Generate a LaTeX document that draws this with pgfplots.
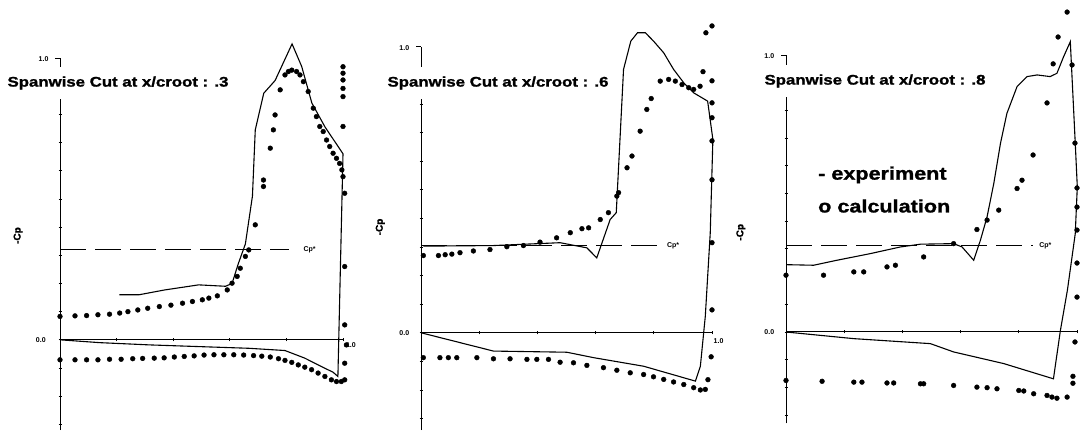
\documentclass[border=0pt]{standalone}
\usepackage{fontspec}
\setmainfont{Liberation Sans}
\newfontfamily\heavy{Liberation Sans}[BoldFeatures={FakeBold=1.2}]
\usepackage{pgfplots}
\pgfplotsset{compat=1.18}

\pgfplotstableread{
x y
0.21 0.16
0.28 0.16
0.37 0.177
0.49 0.195
0.585 0.19
0.608 0.20
0.63 0.27
0.655 0.34
0.68 0.51
0.69 0.745
0.72 0.875
0.76 0.92
0.82 1.05
0.854 0.97
0.89 0.84
0.936 0.756
1.0 0.66
0.982 -0.13
0.965 -0.115
0.924 -0.095
0.865 -0.065
0.795 -0.038
0.667 -0.03
0.49 -0.024
0.316 -0.018
0.14 -0.01
0 0
}\expA

\pgfplotstableread{
x y
0 0.083
0.053 0.085
0.094 0.086
0.134 0.089
0.175 0.091
0.211 0.095
0.240 0.100
0.275 0.106
0.310 0.112
0.351 0.118
0.392 0.123
0.433 0.130
0.468 0.136
0.503 0.142
0.526 0.148
0.556 0.156
0.591 0.177
0.608 0.201
0.626 0.225
0.637 0.254
0.655 0.296
0.667 0.319
0.690 0.408
0.719 0.544
0.719 0.567
0.743 0.680
0.754 0.745
0.760 0.798
0.778 0.887
0.795 0.940
0.807 0.952
0.819 0.957
0.836 0.952
0.848 0.940
0.860 0.916
0.877 0.881
0.895 0.822
0.906 0.792
0.918 0.757
0.930 0.739
0.942 0.709
0.953 0.686
0.965 0.662
0.977 0.644
0.988 0.626
0.996 0.603
1.0 0.579
1.0 0.969
1.0 0.946
1.0 0.922
1.0 0.892
1.0 0.863
1.0 0.757
1.006 0.520
1.006 0.260
1.006 0.053
1.012 -0.018
1.006 -0.083
1.006 -0.142
0 -0.071
0.053 -0.071
0.094 -0.071
0.134 -0.071
0.175 -0.069
0.216 -0.069
0.257 -0.067
0.292 -0.066
0.333 -0.065
0.368 -0.064
0.404 -0.061
0.439 -0.059
0.474 -0.057
0.509 -0.054
0.544 -0.053
0.579 -0.053
0.614 -0.053
0.649 -0.054
0.684 -0.056
0.713 -0.058
0.743 -0.061
0.772 -0.067
0.795 -0.073
0.819 -0.080
0.842 -0.089
0.865 -0.097
0.889 -0.106
0.912 -0.118
0.936 -0.130
0.959 -0.142
0.977 -0.148
0.994 -0.148
}\calA

\pgfplotstableread{
x y
0.008 0.303
0.249 0.305
0.478 0.315
0.570 0.297
0.604 0.262
0.650 0.396
0.671 0.420
0.696 0.921
0.721 1.020
0.744 1.049
0.771 1.049
0.799 1.020
0.834 0.979
0.868 0.921
0.903 0.874
0.937 0.839
0.985 0.810
1.003 0.676
0.994 0.350
0.977 0.058
0.960 -0.117
0.943 -0.169
0.765 -0.117
0.593 -0.087
0.501 -0.068
0.249 -0.064
0 0
}\expB

\pgfplotstableread{
x y
0.008 0.270
0.060 0.270
0.083 0.273
0.106 0.275
0.134 0.280
0.180 0.286
0.237 0.291
0.295 0.301
0.352 0.305
0.409 0.317
0.466 0.332
0.513 0.350
0.553 0.364
0.576 0.367
0.616 0.396
0.644 0.420
0.673 0.478
0.679 0.490
0.708 0.577
0.725 0.618
0.753 0.705
0.776 0.781
0.791 0.819
0.822 0.880
0.851 0.886
0.874 0.880
0.897 0.868
0.920 0.857
0.937 0.851
0.959 0.862
0.969 0.913
0.979 1.049
1.0 1.073
1.0 0.881
1.0 0.804
1.0 0.752
1.0 0.671
1.0 0.535
1.0 0.315
1.0 0.080
0.997 -0.084
0.986 -0.164
0.008 -0.087
0.065 -0.087
0.094 -0.087
0.123 -0.087
0.192 -0.087
0.249 -0.091
0.306 -0.091
0.364 -0.093
0.398 -0.093
0.438 -0.093
0.478 -0.103
0.524 -0.105
0.570 -0.114
0.627 -0.122
0.673 -0.131
0.719 -0.140
0.765 -0.146
0.799 -0.154
0.834 -0.163
0.868 -0.172
0.903 -0.181
0.937 -0.192
0.960 -0.200
0.977 -0.198
}\calB

\pgfplotstableread{
x y
0.003 0.243
0.095 0.241
0.175 0.259
0.290 0.283
0.393 0.307
0.462 0.317
0.576 0.319
0.605 0.307
0.645 0.259
0.668 0.331
0.691 0.416
0.714 0.536
0.737 0.681
0.759 0.789
0.794 0.886
0.828 0.922
0.863 0.928
0.908 0.922
0.931 0.934
0.954 0.994
0.977 1.048
0.994 0.681
1.001 0.524
0.994 0.355
0.967 0.151
0.943 0.006
0.919 -0.169
0.748 -0.114
0.576 -0.072
0.496 -0.042
0.233 -0.024
0 0
}\expC

\pgfplotstableread{
x y
0 0.205
0.129 0.205
0.233 0.217
0.267 0.217
0.347 0.235
0.376 0.241
0.473 0.271
0.576 0.319
0.656 0.370
0.691 0.404
0.731 0.440
0.794 0.518
0.811 0.548
0.849 0.639
0.897 0.827
0.918 0.968
0.935 1.065
0.966 1.155
0.983 0.964
0.993 0.682
1.0 0.520
1.0 0.451
1.0 0.368
1.0 0.249
1.0 0.126
0.993 -0.036
0.986 -0.160
0.986 -0.185
0 -0.175
0.124 -0.178
0.233 -0.181
0.261 -0.181
0.347 -0.184
0.370 -0.184
0.462 -0.187
0.473 -0.187
0.576 -0.193
0.656 -0.199
0.691 -0.201
0.725 -0.205
0.800 -0.211
0.817 -0.213
0.851 -0.223
0.897 -0.229
0.914 -0.235
0.931 -0.239
0.966 -0.235
}\calC

\begin{document}
\begin{tikzpicture}
\path[use as bounding box] (0pt,0pt) rectangle (1081pt,432pt);
\pgfplotsset{
  panel/.style={
    scale only axis, clip=false,
    xmin=0, xmax=1,
    axis y line=left, axis x line=middle,
    axis line style={-, line width=1pt, black},
    xtick={0.2,0.4,0.6,0.8,1.0}, xticklabels={},
    ytick={-0.3,-0.2,-0.1,0,0.1,0.2,0.3,0.4,0.5,0.6,0.7,0.8,0.9}, yticklabels={},
    extra y ticks={1.0}, extra y tick labels={},
    extra y tick style={tick align=outside, major tick length=5pt},
    tick align=center, major tick length=3pt,
    tick style={line width=0.8pt, black},
    anchor=south west,
  },
  expline/.style={black, line width=1.1pt, no markers},
  calc/.style={only marks, mark=*, mark size=2.4pt, black},
  cpstar/.style={black, line width=0.9pt, dash pattern=on 26pt off 9pt, no markers},
}
\tikzset{tiny/.style={font=\fontsize{7}{7}\selectfont\bfseries, inner sep=0pt},
  ylab/.style={rotate=90, font=\fontsize{10}{10}\selectfont\heavy\bfseries, inner sep=0pt},
  ttl/.style={fill=white, inner xsep=1pt, inner ysep=9pt, font=\fontsize{14}{14}\selectfont\heavy\bfseries},
  leg/.style={anchor=west, inner sep=0pt, font=\fontsize{18}{18}\selectfont\heavy\bfseries}}

% Panel 1
\begin{axis}[panel, at={(60pt,2pt)}, width=283pt, height=372pt, ymin=-0.32, ymax=1.0]
\addplot[expline] table {\expA};
\addplot[calc] table {\calA};
\addplot[cpstar] coordinates {(0,0.319) (0.81,0.319)};
\node[tiny, anchor=west] at (axis cs:0.86,0.319) {Cp*};
\node[tiny, anchor=east] at (axis cs:-0.05,0) {0.0};
\node[tiny, anchor=south east] at (axis cs:-0.04,0.985) {1.0};
\node[tiny, anchor=north west] at (axis cs:1.01,-0.01) {1.0};
\node[ylab] at (axis cs:-0.148,0.37) {-Cp};
\end{axis}

% Panel 2
\begin{axis}[panel, at={(421pt,2pt)}, width=291pt, height=383.2pt, ymin=-0.34, ymax=1.0]
\addplot[expline] table {\expB};
\addplot[calc] table {\calB};
\addplot[cpstar] coordinates {(0,0.305) (0.82,0.305)};
\node[tiny, anchor=west] at (axis cs:0.845,0.305) {Cp*};
\node[tiny, anchor=east] at (axis cs:-0.04,0) {0.0};
\node[tiny, anchor=south east] at (axis cs:-0.04,0.985) {1.0};
\node[tiny, anchor=north west] at (axis cs:1.005,-0.02) {1.0};
\node[ylab] at (axis cs:-0.14,0.37) {-Cp};
\end{axis}

% Panel 3
\begin{axis}[panel, at={(786pt,8.6pt)}, width=291pt, height=368.4pt, ymin=-0.33, ymax=1.0]
\addplot[expline] table {\expC};
\addplot[calc] table {\calC};
\addplot[cpstar] coordinates {(0,0.313) (0.85,0.313)};
\node[tiny, anchor=west] at (axis cs:0.87,0.313) {Cp*};
\node[tiny, anchor=east] at (axis cs:-0.04,0) {0.0};
\node[tiny, anchor=south east] at (axis cs:-0.04,0.985) {1.0};
\node[ylab] at (axis cs:-0.155,0.36) {-Cp};
\end{axis}

% Titles (white boxes mask the axis line as in the original)
\node[ttl] at (118pt,349pt) {\scalebox{1.2}[1]{Spanwise Cut at x/croot : .3}};
\node[ttl] at (498pt,349pt) {\scalebox{1.2}[1]{Spanwise Cut at x/croot : .6}};
\node[ttl] at (875pt,351pt) {\scalebox{1.2}[1]{Spanwise Cut at x/croot : .8}};

% Legend text
\node[leg] at (818pt,257pt) {\scalebox{1.2}[1]{- experiment}};
\node[leg] at (818pt,226pt) {\scalebox{1.2}[1]{o calculation}};
\end{tikzpicture}
\end{document}
